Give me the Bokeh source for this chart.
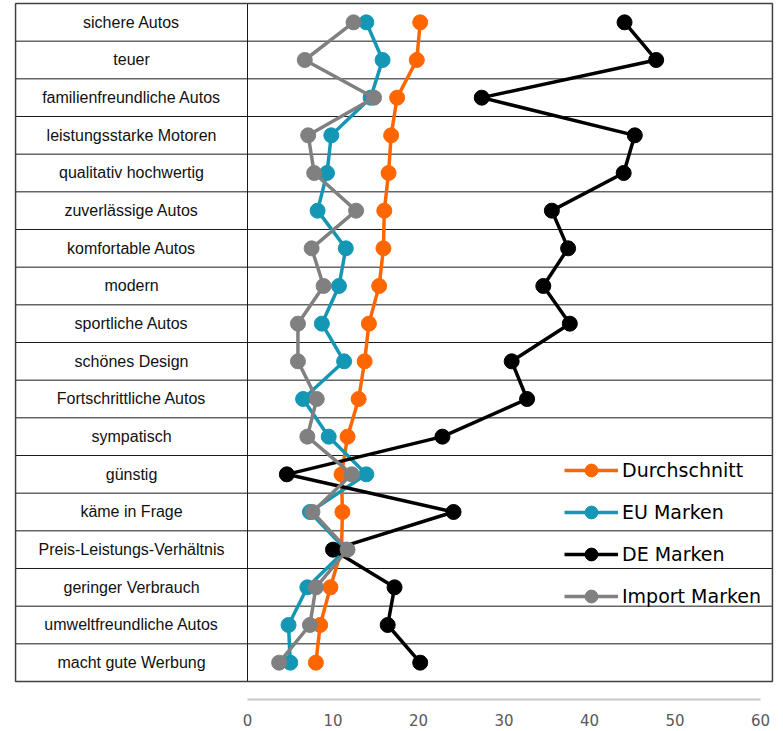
from bokeh.plotting import figure
from bokeh.models import Range1d, FixedTicker, Legend, LegendItem
from bokeh.core.properties import value
from bokeh.embed import file_html
from bokeh.resources import INLINE

categories = ["sichere Autos", "teuer", "familienfreundliche Autos", "leistungsstarke Motoren",
              "qualitativ hochwertig", "zuverlässige Autos", "komfortable Autos", "modern",
              "sportliche Autos", "schönes Design", "Fortschrittliche Autos", "sympatisch",
              "günstig", "käme in Frage", "Preis-Leistungs-Verhältnis", "geringer Verbrauch",
              "umweltfreundliche Autos", "macht gute Werbung"]

durchschnitt = [20.2, 19.8, 17.5, 16.8, 16.5, 16.0, 15.9, 15.4, 14.2, 13.7, 13.0, 11.7,
                11.0, 11.1, 11.0, 9.7, 8.5, 8.0]
eu_marken = [13.9, 15.8, 14.4, 9.8, 9.3, 8.2, 11.5, 10.7, 8.7, 11.3, 6.5, 9.5,
             13.9, 7.3, 11.5, 7.0, 4.8, 5.0]
de_marken = [44.1, 47.8, 27.4, 45.3, 44.0, 35.6, 37.5, 34.6, 37.7, 30.9, 32.7, 22.8,
             4.6, 24.1, 10.0, 17.2, 16.4, 20.2]
import_marken = [12.4, 6.7, 14.8, 7.1, 7.8, 12.7, 7.5, 8.9, 5.9, 5.9, 8.1, 7.0,
                 12.2, 7.6, 11.7, 8.0, 7.3, 3.7]

series_names = ["Durchschnitt", "EU Marken", "DE Marken", "Import Marken"]
series_colors = ["#ff6600", "#1497b4", "#000000", "#808080"]
x_ticks = [0, 10, 20, 30, 40, 50, 60]

n = len(categories)
ys = [n - i - 0.5 for i in range(n)]

TABLE_LEFT = -27.13
TABLE_RIGHT = 61.4

p = figure(frame_width=761, frame_height=698,
           x_range=Range1d(-27.37, 61.64), y_range=Range1d(-0.478, n + 0.053),
           output_backend="svg", toolbar_location=None, y_axis_location=None,
           min_border_left=13, min_border_top=1, min_border_right=4, min_border_bottom=0)
p.outline_line_color = None
p.xgrid.visible = False
p.ygrid.visible = False
p.background_fill_color = "white"
p.border_fill_color = "white"

ax = p.xaxis[0]
ax.ticker = FixedTicker(ticks=x_ticks)
ax.bounds = (x_ticks[0], x_ticks[-1])
ax.axis_line_color = "#c6c6c6"
ax.axis_line_width = 2
ax.major_tick_line_color = None
ax.minor_tick_line_color = None
ax.major_tick_in = 0
ax.major_tick_out = 0
ax.major_label_standoff = 14
ax.major_label_text_font = "DejaVu Sans"
ax.major_label_text_font_size = "15px"
ax.major_label_text_color = "#595959"

# table grid
hy = list(range(1, n))
p.segment(x0=[TABLE_LEFT] * len(hy), y0=hy, x1=[TABLE_RIGHT] * len(hy), y1=hy,
          line_color="#1a1a1a", line_width=1)
p.segment(x0=[0], y0=[0], x1=[0], y1=[n], line_color="#1a1a1a", line_width=1)
p.rect(x=[(TABLE_LEFT + TABLE_RIGHT) / 2], y=[n / 2], width=[TABLE_RIGHT - TABLE_LEFT],
       height=[n], fill_color=None, line_color="#404040", line_width=1.5)

p.text(x=[TABLE_LEFT / 2] * n, y=ys, text=categories, text_align="center",
       text_baseline="middle", text_font=value("Liberation Sans"),
       text_font_size="16px", text_color="#111111")

items = []
for name, vals, col in zip(series_names, [durchschnitt, eu_marken, de_marken, import_marken],
                           series_colors):
    l = p.line(vals, ys, line_color=col, line_width=3.5)
    c = p.scatter(vals, ys, size=15, fill_color=col, line_color=col)
    items.append(LegendItem(label=name, renderers=[l, c]))

legend = Legend(items=items, location=(551, 87), orientation="vertical",
                glyph_width=54, glyph_height=32, label_height=32, spacing=10,
                padding=0, margin=0, label_standoff=4, border_line_color=None,
                background_fill_alpha=0, label_text_font="DejaVu Sans",
                label_text_font_size="19px", label_text_color="#000000")
p.add_layout(legend)

open("out.html", "w").write(file_html(p, INLINE))
